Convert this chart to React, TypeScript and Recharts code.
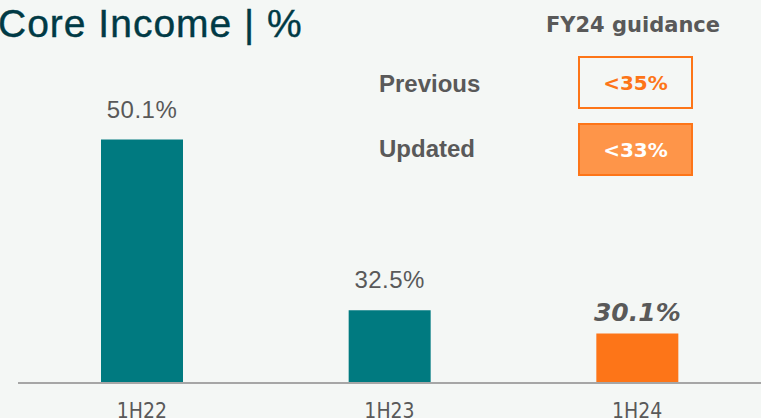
import { BarChart, Bar, XAxis, YAxis, Cell, LabelList } from "recharts";

const categories = ["1H22", "1H23", "1H24"];
const coreIncome = [50.1, 32.5, 30.1];
const highlighted = [false, false, true];

const guidanceRows = ["Previous", "Updated"];
const guidanceValues = ["<35%", "<33%"];

const TEAL = "#007a80";
const ORANGE = "#fd7518";
const GREY = "#595959";

const data = categories.map((cat, i) => ({
  cat,
  value: coreIncome[i],
  hi: highlighted[i],
}));

function ValueLabel(props: any) {
  const { x, y, width, index } = props;
  const v = coreIncome[index];
  const hi = highlighted[index];
  return (
    <text
      x={x + width / 2}
      y={y - (hi ? 13 : 22)}
      textAnchor="middle"
      fill={GREY}
      fontFamily={hi ? "'DejaVu Sans', sans-serif" : "'Liberation Sans', Arial, sans-serif"}
      fontSize={hi ? 25 : 24}
      fontWeight={hi ? 700 : 400}
      fontStyle={hi ? "italic" : "normal"}
      letterSpacing={hi ? 0 : 0.5}
    >
      {v.toFixed(1)}%
    </text>
  );
}

export default function App() {
  return (
    <div
      style={{
        position: "absolute",
        left: 0,
        top: 0,
        width: 761,
        height: 418,
        overflow: "hidden",
        background: "#f4f7f5",
        fontFamily: "'Liberation Sans', Arial, sans-serif",
      }}
    >
      <div
        style={{
          position: "absolute",
          left: -2,
          top: 4,
          fontSize: 39,
          lineHeight: 1,
          letterSpacing: 1,
          color: "#003a45",
          whiteSpace: "nowrap",
          WebkitTextStroke: "0.4px #003a45",
        }}
      >
        Core Income | %
      </div>

      <BarChart
        width={761}
        height={418}
        data={data}
        margin={{ top: 92, right: 0, bottom: 0, left: 18 }}
      >
        <YAxis hide domain={[25, 55]} />
        <XAxis
          dataKey="cat"
          height={35}
          axisLine={{ stroke: "#a6a6a6", strokeWidth: 2 }}
          tickLine={false}
          tick={{
            fill: GREY,
            fontSize: 21,
            fontFamily: "'Liberation Sans Narrow', 'DejaVu Sans Condensed', sans-serif",
          }}
          tickMargin={14}
        />
        <Bar dataKey="value" barSize={82} isAnimationActive={false}>
          {data.map((d) => (
            <Cell key={d.cat} fill={d.hi ? ORANGE : TEAL} />
          ))}
          <LabelList dataKey="value" content={<ValueLabel />} />
        </Bar>
      </BarChart>

      <div
        style={{
          position: "absolute",
          left: 533,
          top: 13,
          width: 200,
          textAlign: "center",
          fontSize: 21,
          lineHeight: "24px",
          fontWeight: 700,
          fontFamily: "'DejaVu Sans', sans-serif",
          color: GREY,
        }}
      >
        FY24 guidance
      </div>

      {guidanceRows.map((row, i) => (
        <div key={row}>
          <div
            style={{
              position: "absolute",
              left: 379,
              top: 71 + i * 65,
              fontSize: 24,
              lineHeight: "26px",
              fontWeight: 700,
              color: GREY,
            }}
          >
            {row}
          </div>
          <div
            style={{
              position: "absolute",
              left: 578,
              top: 56 + i * 67,
              width: 115,
              height: 53,
              boxSizing: "border-box",
              border: `2px solid ${ORANGE}`,
              background: i === 1 ? "#fe9549" : "transparent",
              color: i === 1 ? "#ffffff" : ORANGE,
              fontSize: 20,
              fontWeight: 700,
              fontFamily: "'DejaVu Sans', sans-serif",
              display: "flex",
              alignItems: "center",
              justifyContent: "center",
            }}
          >
            {guidanceValues[i]}
          </div>
        </div>
      ))}
    </div>
  );
}
